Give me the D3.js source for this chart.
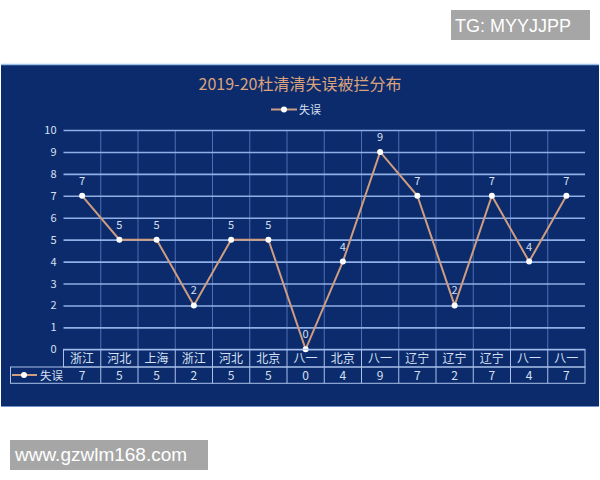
<!DOCTYPE html>
<html><head><meta charset="utf-8">
<script src="https://cdn.jsdelivr.net/npm/d3@7/dist/d3.min.js"></script>
<style>
html,body{margin:0;padding:0;background:#fff;}
svg{display:block;}
text{font-family:"Noto Sans CJK SC","Noto Sans",sans-serif;}
</style></head>
<body>
<svg id="c" width="600" height="480"></svg>
<script>
const categories = ["浙江","河北","上海","浙江","河北","北京","八一","北京","八一","辽宁","辽宁","辽宁","八一","八一"];
const values = [7,5,5,2,5,5,0,4,9,7,2,7,4,7];
const yTicks = [0,1,2,3,4,5,6,7,8,9,10];
const seriesName = "失误";
const title = "2019-20杜清清失误被拦分布";

const svg = d3.select("#c");
const bg = "#0c2b6c", grid = "#8fafe6", vgrid = "#4d6fb5", lineCol = "#cf9d80", txt = "#d6e0f2";

// watermarks
svg.append("rect").attr("x",451).attr("y",10).attr("width",139).attr("height",30).attr("fill","#a6a6a6");
svg.append("text").attr("x",455).attr("y",32).attr("fill","#fff").style("font-family","'Liberation Sans',Arial,sans-serif").style("font-size","18px").text("TG: MYYJJPP");

// panel
svg.append("rect").attr("x",1).attr("y",64).attr("width",598).attr("height",343).attr("fill",bg);
svg.append("line").attr("x1",1).attr("x2",599).attr("y1",64.5).attr("y2",64.5).attr("stroke","#9cc0ea").attr("stroke-width",1.5);
svg.append("line").attr("x1",1).attr("x2",599).attr("y1",406.5).attr("y2",406.5).attr("stroke","#6f92c8").attr("stroke-width",1);

svg.append("text").attr("x",300).attr("y",90).attr("text-anchor","middle").attr("fill","#dba27c").style("font-size","16px").text(title);

// legend
const lg = svg.append("g");
lg.append("line").attr("x1",271).attr("x2",297).attr("y1",109.5).attr("y2",109.5).attr("stroke",lineCol).attr("stroke-width",2);
lg.append("circle").attr("cx",284).attr("cy",109.5).attr("r",3).attr("fill","#fff");
lg.append("text").attr("x",299).attr("y",113.5).attr("fill",txt).style("font-size","11px").text(seriesName);

const L = 63.5, R = 585, T = 130, B = 349.3;
const x = d3.scaleBand().domain(d3.range(categories.length)).range([L,R]);
const y = d3.scaleLinear().domain([0,10]).range([B,T]);

// vertical gridlines
const bounds = d3.range(categories.length+1).map(i => i < categories.length ? x(i) : R);
svg.append("g").selectAll("line").data(bounds.slice(1,-1)).join("line")
  .attr("x1",d=>d).attr("x2",d=>d).attr("y1",T).attr("y2",B)
  .attr("stroke",vgrid).attr("stroke-width",1);

// horizontal gridlines + y labels via axis
const ax = svg.append("g").attr("transform",`translate(${L},0)`)
  .call(d3.axisLeft(y).tickValues(yTicks).tickSize(-(R-L)).tickPadding(7).tickFormat(d3.format("d")));
ax.select(".domain").remove();
ax.selectAll(".tick line").attr("stroke",grid).attr("stroke-width",1.6);
ax.selectAll(".tick text").attr("fill",txt).style("font-size","11px").style("font-family","'Noto Sans CJK SC',sans-serif");

// line
const line = d3.line().x((d,i)=>x(i)+x.bandwidth()/2).y(d=>y(d));
svg.append("path").datum(values).attr("d",line).attr("fill","none").attr("stroke",lineCol).attr("stroke-width",2);
svg.append("g").selectAll("circle").data(values).join("circle")
  .attr("cx",(d,i)=>x(i)+x.bandwidth()/2).attr("cy",d=>y(d)).attr("r",3).attr("fill","#fff");
svg.append("g").selectAll("text").data(values).join("text")
  .attr("x",(d,i)=>x(i)+x.bandwidth()/2).attr("y",d=>y(d)-11)
  .attr("text-anchor","middle").attr("fill",txt).style("font-size","11px").text(d=>d);

// data table
const r0 = B, r1 = 367, r2 = 383.3, tl = 10.5;
const tg = svg.append("g").attr("stroke","#a9c1ea").attr("stroke-width",1).attr("fill","none");
tg.append("rect").attr("x",L).attr("y",r0).attr("width",R-L).attr("height",r1-r0);
tg.append("rect").attr("x",tl).attr("y",r1).attr("width",R-tl).attr("height",r2-r1);
tg.selectAll("line.v").data(bounds.slice(1,-1)).join("line")
  .attr("x1",d=>d).attr("x2",d=>d).attr("y1",r0).attr("y2",r2);
svg.append("g").selectAll("text").data(categories).join("text")
  .attr("x",(d,i)=>x(i)+x.bandwidth()/2).attr("y",r1-4.5).attr("text-anchor","middle")
  .attr("fill",txt).style("font-size","12px").text(d=>d);
svg.append("g").selectAll("text").data(values).join("text")
  .attr("x",(d,i)=>x(i)+x.bandwidth()/2).attr("y",r2-3.5).attr("text-anchor","middle")
  .attr("fill",txt).style("font-size","12px").text(d=>d);
svg.append("line").attr("x1",12).attr("x2",37).attr("y1",375).attr("y2",375).attr("stroke",lineCol).attr("stroke-width",2);
svg.append("circle").attr("cx",24).attr("cy",375).attr("r",3).attr("fill","#fff");
svg.append("text").attr("x",40).attr("y",379.5).attr("fill",txt).style("font-size","11.5px").text(seriesName);

// bottom watermark
svg.append("rect").attr("x",10).attr("y",440).attr("width",198).attr("height",30).attr("fill","#a6a6a6");
svg.append("text").attr("x",15).attr("y",461).attr("fill","#fff").style("font-family","'Liberation Sans',Arial,sans-serif").style("font-size","19px").text("www.gzwlm168.com");
</script>
</body></html>
